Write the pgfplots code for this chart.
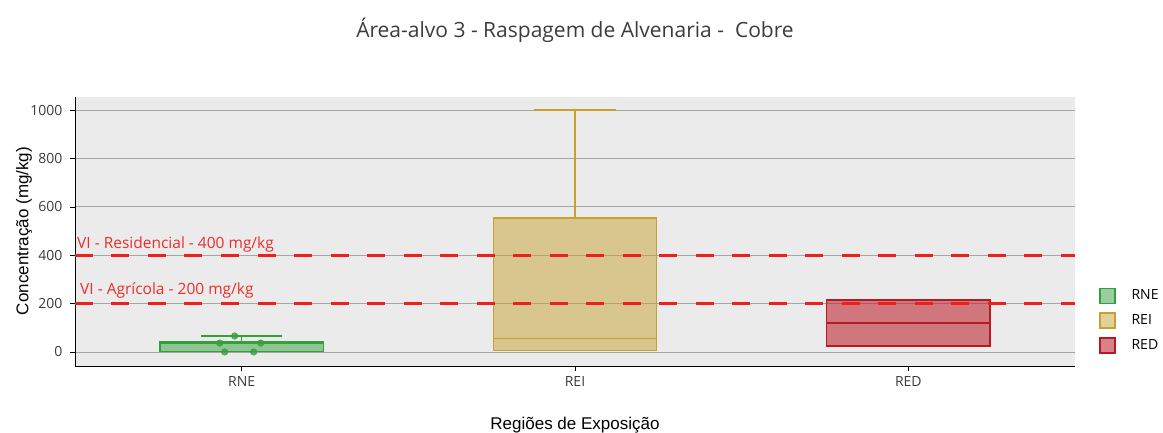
\documentclass[border=0pt]{standalone}
\usepackage{fontspec}
\setmainfont{Open Sans}
\newfontfamily\arialfont{Liberation Sans}
\usepackage{pgfplots}
\pgfplotsset{compat=1.18}

\definecolor{bgray}{RGB}{235,235,235}
\definecolor{gridgray}{RGB}{165,165,165}
\definecolor{gline}{RGB}{52,160,60}
\definecolor{yline}{RGB}{200,160,50}
\definecolor{rline}{RGB}{185,25,35}
\definecolor{vired}{RGB}{240,30,30}
\definecolor{vitext}{RGB}{235,45,45}
\definecolor{ticktext}{RGB}{60,60,60}

\begin{document}
\begin{tikzpicture}
\path[use as bounding box] (-75pt,-66pt) rectangle (1088pt,366pt);
\begin{axis}[
    at={(0pt,0pt)}, anchor=south west,
    scale only axis, width=1000pt, height=269pt,
    xmin=-0.5, xmax=2.5, ymin=-58, ymax=1054,
    axis lines=left,
    axis line style={-, black, line width=0.8pt},
    axis background/.style={fill=bgray},
    xtick={0,1,2}, xticklabels={RNE,REI,RED},
    ytick={0,200,...,1000},
    ymajorgrids, major grid style={gridgray, line width=0.8pt},
    tick align=outside, major tick length=5pt,
    tick style={black, line width=0.6pt},
    /pgf/number format/assume math mode=true,
    /pgf/number format/1000 sep={},
    ticklabel style={font=\fontsize{14}{16}\selectfont, text=ticktext},
    yticklabel style={xshift=-4pt},
    xticklabel style={yshift=-2pt},
    legend style={at={(1.021,0.30)}, anchor=north west,
        draw=none, fill=none, font=\fontsize{14}{16}\selectfont,
        row sep=8.5pt, legend cell align=left},
    legend image code/.code={\draw[#1] (0pt,-7.5pt) rectangle (15pt,7.5pt);
        \path (29pt,0pt);},
]
% RNE: box q1=1 q3=42, median 37, upper whisker 66
\addplot[draw=gline, fill=gline, fill opacity=0.5, line width=1.4pt, forget plot]
    coordinates {(-0.245,1) (0.245,1) (0.245,42) (-0.245,42)} -- cycle;
\addplot[gline, line width=1.4pt, forget plot] coordinates {(-0.245,37) (0.245,37)};
\addplot[gline, line width=1.4pt, forget plot] coordinates {(0,42) (0,66)};
\addplot[gline, line width=1.4pt, forget plot] coordinates {(-0.1225,66) (0.1225,66)};
\addplot[only marks, mark=*, mark size=3.3pt,
    mark options={draw=gline, fill=gline, fill opacity=0.8}, forget plot]
    coordinates {(-0.021,66) (-0.066,37) (0.057,37) (-0.051,0) (0.036,0)};
% REI: box q1=5 q3=554, median 55, upper whisker 1000
\addplot[draw=yline, fill=yline, fill opacity=0.5, line width=1.4pt, forget plot]
    coordinates {(0.755,5) (1.245,5) (1.245,554) (0.755,554)} -- cycle;
\addplot[yline, line width=1.4pt, forget plot] coordinates {(0.755,55) (1.245,55)};
\addplot[yline, line width=1.4pt, forget plot] coordinates {(1,554) (1,1000)};
\addplot[yline, line width=1.4pt, forget plot] coordinates {(0.8775,1000) (1.1225,1000)};
% RED: box q1=25 q3=215, median 120
\addplot[draw=rline, fill=rline, fill opacity=0.55, line width=1.4pt, forget plot]
    coordinates {(1.755,25) (2.245,25) (2.245,215) (1.755,215)} -- cycle;
\addplot[rline, line width=1.4pt, forget plot] coordinates {(1.755,120) (2.245,120)};
% reference values
\addplot[vired, line width=2.6pt, dash pattern=on 18pt off 18.5pt, forget plot]
    coordinates {(-0.5,400) (2.5,400)};
\addplot[vired, line width=2.6pt, dash pattern=on 18pt off 18.5pt, forget plot]
    coordinates {(-0.5,200) (2.5,200)};
\node[anchor=base west, text=vitext, font=\fontsize{15.5}{18}\selectfont, inner sep=0pt]
    at (axis cs:-0.494,426) {VI - Residencial - 400 mg/kg};
\node[anchor=base west, text=vitext, font=\fontsize{15.5}{18}\selectfont, inner sep=0pt]
    at (axis cs:-0.485,236) {VI - Agrícola - 200 mg/kg};
% legend
\addlegendimage{draw=gline, fill=gline, fill opacity=0.5, line width=1.4pt}
\addlegendentry{RNE}
\addlegendimage{draw=yline, fill=yline, fill opacity=0.5, line width=1.4pt}
\addlegendentry{REI}
\addlegendimage{draw=rline, fill=rline, fill opacity=0.55, line width=1.4pt}
\addlegendentry{RED}
\end{axis}
\node[font=\fontsize{21}{24}\selectfont, text=ticktext] at (500pt,336pt)
    {Área-alvo 3 - Raspagem de Alvenaria -\ \ Cobre};
\node[font=\arialfont\fontsize{17}{20}\selectfont, rotate=90] at (-51pt,135pt)
    {Concentração (mg/kg)};
\node[font=\arialfont\fontsize{17}{20}\selectfont] at (500pt,-59pt)
    {Regiões de Exposição};
\end{tikzpicture}
\end{document}
